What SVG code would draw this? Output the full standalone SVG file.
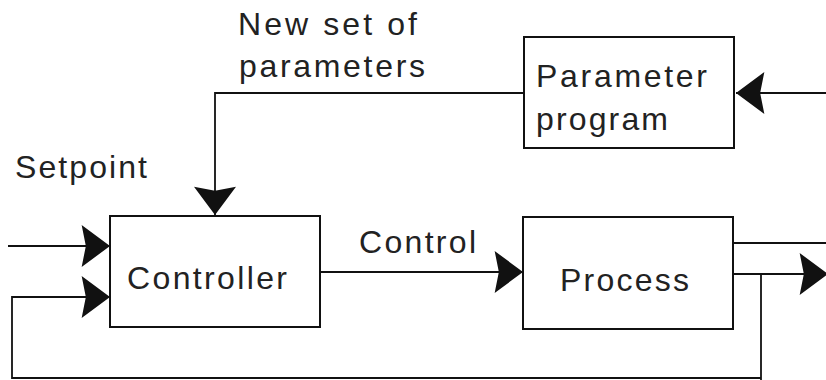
<svg xmlns="http://www.w3.org/2000/svg" width="826" height="380" viewBox="0 0 826 380">
<style>
.box{fill:#fff;stroke:#111;stroke-width:2}
.ln{fill:none;stroke:#111;stroke-width:1.8}
.lbl{font-family:"Liberation Sans",Arial,sans-serif;font-size:32px;fill:#222}
</style>
<defs>
<marker id="ah" markerUnits="userSpaceOnUse" markerWidth="30" markerHeight="42" viewBox="0 0 28 40" refX="27" refY="20" orient="auto">
<path d="M0,0 L27,20 L0,40 L4,20 Z" fill="#111"/>
</marker>
</defs>
<rect width="826" height="380" fill="#fff"/>
<g id="connectors">
<path class="ln" d="M524,93 H215 V215" marker-end="url(#ah)"/>
<path class="ln" d="M826,93 H736" marker-end="url(#ah)"/>
<path class="ln" d="M8,246 H110" marker-end="url(#ah)"/>
<path class="ln" d="M761,274 V380"/>
<path class="ln" d="M761,378 H12 V297 H110" marker-end="url(#ah)"/>
<path class="ln" d="M320,272 H523" marker-end="url(#ah)"/>
<path class="ln" d="M733,274 H828" marker-end="url(#ah)"/>
<path class="ln" d="M733,243 H826"/>
</g>
<g id="labels">
<text class="lbl" x="238" y="35" textLength="179" lengthAdjust="spacing">New set of</text>
<text class="lbl" x="239" y="77" textLength="186" lengthAdjust="spacing">parameters</text>
<text class="lbl" x="15" y="178" textLength="132" lengthAdjust="spacing">Setpoint</text>
<text class="lbl" x="359" y="253" textLength="117" lengthAdjust="spacing">Control</text>
</g>
<g id="controller">
<rect class="box" x="110" y="216" width="210" height="111"/>
<text class="lbl" x="127" y="289" textLength="160" lengthAdjust="spacing">Controller</text>
</g>
<g id="process">
<rect class="box" x="523" y="217" width="210" height="112"/>
<text class="lbl" x="560" y="291" textLength="129" lengthAdjust="spacing">Process</text>
</g>
<g id="parameter-program">
<rect class="box" x="524" y="37" width="210" height="111"/>
<text class="lbl" x="536" y="87" textLength="171" lengthAdjust="spacing">Parameter</text>
<text class="lbl" x="536" y="130" textLength="132" lengthAdjust="spacing">program</text>
</g>
</svg>
